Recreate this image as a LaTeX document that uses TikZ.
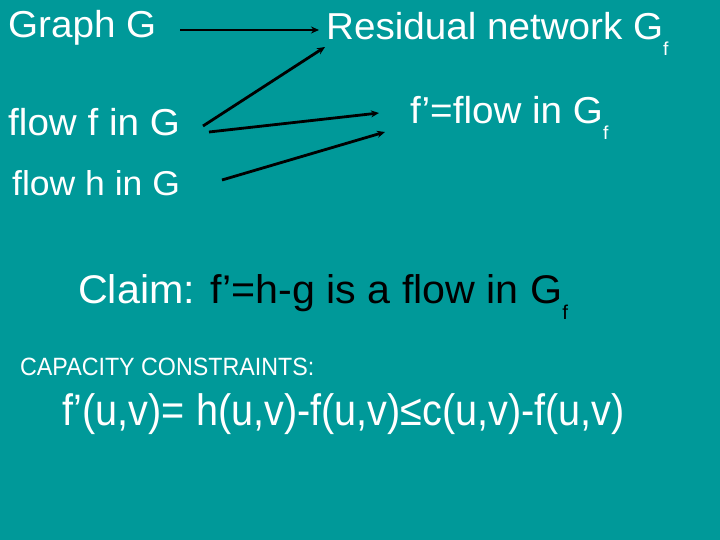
\documentclass[tikz,border=0pt]{standalone}
\usepackage{fontspec}
\usepackage{graphicx}
\setmainfont{Liberation Sans}
\usetikzlibrary{arrows.meta}
\definecolor{bg}{RGB}{0,153,153}
\newcommand\subF{\raisebox{-0.42em}{\scalebox{0.5}{f}}}
\begin{document}
\begin{tikzpicture}[x=1pt,y=-1pt,
  lbl/.style={anchor=base west,inner sep=0pt,text=white},
  conn/.style={line width=2.8pt,-{Stealth[length=8pt,width=7pt]}}]
\fill[bg] (0,0) rectangle (720,540);
\useasboundingbox (0,0) rectangle (720,540);
% labels
\node[lbl] (graph) at (8,38) {\fontsize{37.5}{42}\selectfont\scalebox{1.03}[1]{Graph G}};
\node[lbl] (resid) at (326,40) {\fontsize{37.5}{42}\selectfont\scalebox{1.03}[1]{Residual network G\subF}};
\node[lbl] (flowf) at (8,136) {\fontsize{37.5}{42}\selectfont\scalebox{1.03}[1]{flow f in G}};
\node[lbl] (fprime) at (410,124) {\fontsize{37.5}{42}\selectfont\scalebox{1.03}[1]{f’=flow in G\subF}};
\node[lbl] (flowh) at (12,196) {\fontsize{34.5}{40}\selectfont\scalebox{1.03}[1]{flow h in G}};
\node[lbl] (claim) at (78,303) {\fontsize{40}{46}\selectfont\scalebox{1.03}[1]{Claim: \textcolor{black}{f’=h-g is a flow in G\subF}}};
\node[lbl] (cap) at (20,375) {\fontsize{25}{30}\selectfont\scalebox{0.93}[1]{CAPACITY CONSTRAINTS:}};
\node[lbl] (formula) at (62,425) {\fontsize{44}{50}\selectfont\scalebox{0.9}[1]{f’(u,v)= h(u,v)-f(u,v)≤c(u,v)-f(u,v)}};
% connector ends
\coordinate (a1s) at (180,30);  \coordinate (a1e) at (319,30);
\coordinate (a2s) at (203,126); \coordinate (a2e) at (325,47);
\coordinate (a3s) at (209,132); \coordinate (a3e) at (379,113);
\coordinate (a4s) at (222,180); \coordinate (a4e) at (385,132);
\draw[conn] (a1s) -- (a1e);
\draw[conn] (a2s) -- (a2e);
\draw[conn] (a3s) -- (a3e);
\draw[conn] (a4s) -- (a4e);
\end{tikzpicture}
\end{document}
